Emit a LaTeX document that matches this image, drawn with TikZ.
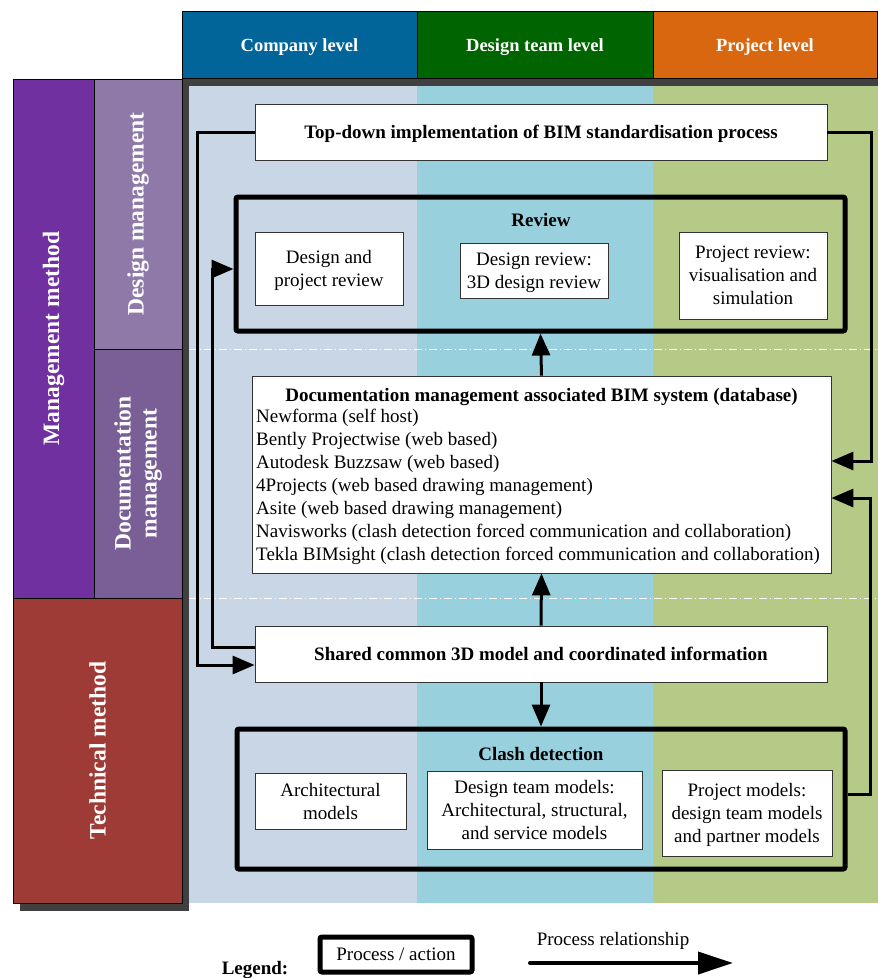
\documentclass[tikz,border=0pt]{standalone}
\usepackage{fontspec}
\setmainfont{Liberation Serif}
\usetikzlibrary{arrows.meta}

% colours
\definecolor{hdrblue}{HTML}{02659A}
\definecolor{hdrgreen}{HTML}{006400}
\definecolor{hdrorange}{HTML}{D9670F}
\definecolor{bandone}{HTML}{C8D6E5}
\definecolor{bandtwo}{HTML}{99D0DD}
\definecolor{bandthree}{HTML}{B6CA87}
\definecolor{mgmtpurple}{HTML}{7030A0}
\definecolor{desmgmt}{HTML}{8F79A8}
\definecolor{docmgmt}{HTML}{7A5F96}
\definecolor{techred}{HTML}{9E3B37}
\definecolor{shadowgray}{HTML}{404040}
\definecolor{boxline}{HTML}{333333}

\tikzset{
  base/.style={font=\fontsize{19}{23}\selectfont, inner sep=2pt},
  hdr/.style={base, draw=black, line width=1pt, text=white, text depth=0pt,
    font=\fontsize{18.5}{22}\selectfont\bfseries},
  sidelabel/.style={draw=black, line width=1pt, text=white, rotate=90, align=center,
    font=\fontsize{23.5}{26}\selectfont\bfseries, inner sep=0pt},
  plainbox/.style={base, draw=boxline, line width=0.8pt, fill=white, align=center, text depth=0pt},
  procbox/.style={draw=black, line width=5pt, rounded corners=2pt},
  boldtext/.style={base, font=\fontsize{19}{23}\selectfont\bfseries},
  flow/.style={line width=3pt, -{Triangle[length=22pt,width=18pt]}},
  sepline/.style={white, line width=0.6pt, dash pattern=on 8pt off 3pt on 1pt off 3pt},
}

\begin{document}
\begin{tikzpicture}[x=1pt,y=-1pt]
\useasboundingbox (0,0) rectangle (878,978);

% shadows and column bands
\fill[shadowgray] (183,79) rectangle (878,903);
\fill[shadowgray] (20,86) rectangle (189,911);
\fill[bandone] (189,86) rectangle (417,903);
\fill[bandtwo] (417,86) rectangle (653,903);
\fill[bandthree] (653,86) rectangle (878,903);
\draw[sepline] (189,349) -- (878,349);
\draw[sepline] (189,598) -- (878,598);

% column headers
\node[hdr, fill=hdrblue, minimum width=235, minimum height=67] (hcompany) at (299.5,45) {Company level};
\node[hdr, fill=hdrgreen, minimum width=236, minimum height=67] (hteam) at (535,45) {Design team level};
\node[hdr, fill=hdrorange, minimum width=224, minimum height=67] (hproject) at (765,45) {Project level};

% row headers
\node[sidelabel, fill=mgmtpurple, minimum width=519, minimum height=81] (lmgmt) at (53.5,338.5) {Management method};
\node[sidelabel, fill=desmgmt, minimum width=270, minimum height=88] (ldesign) at (138,214) {Design management};
\node[sidelabel, fill=docmgmt, minimum width=249, minimum height=88] (ldoc) at (138,473.5) {Documentation\\management};
\node[sidelabel, fill=techred, minimum width=305, minimum height=169] (ltech) at (97.5,750.5) {Technical method};

% process boxes
\node[plainbox, minimum width=572, minimum height=56, font=\fontsize{19}{23}\selectfont\bfseries] (topdown) at (541,132)
  {Top-down implementation of BIM standardisation process};

\node[procbox, minimum width=609, minimum height=134] (review) at (540.5,264) {};
\node[boldtext] (reviewtitle) at (541,219.5) {Review};
\node[plainbox, minimum width=148, minimum height=73] (revone) at (329,268.5) {Design and\\project review};
\node[plainbox, minimum width=148, minimum height=55] (revtwo) at (534,270.5) {Design review:\\3D design review};
\node[plainbox, minimum width=148, minimum height=87] (revthree) at (753,275.5) {Project review:\\visualisation and\\simulation};

\node[plainbox, minimum width=579, minimum height=197] (doc) at (541.5,474.5) {};
\node[boldtext] (doctitle) at (541.5,396.5) {Documentation management associated BIM system (database)};
\node[base, anchor=north west, align=left] (doclist) at (254,407) {%
  Newforma (self host)\\
  Bently Projectwise (web based)\\
  Autodesk Buzzsaw (web based)\\
  4Projects (web based drawing management)\\
  Asite (web based drawing management)\\
  Navisworks (clash detection forced communication and collaboration)\\
  Tekla BIMsight (clash detection forced communication and collaboration)};

\node[plainbox, minimum width=572, minimum height=56, font=\fontsize{19}{23}\selectfont\bfseries] (shared) at (541,654)
  {Shared common 3D model and coordinated information};

\node[procbox, minimum width=608, minimum height=140] (clash) at (541,799) {};
\node[boldtext] (clashtitle) at (541,753.5) {Clash detection};
\node[plainbox, minimum width=151, minimum height=56] (clone) at (330.5,801) {Architectural\\models};
\node[plainbox, minimum width=215, minimum height=78] (cltwo) at (534.5,810) {Design team models:\\Architectural, structural,\\and service models};
\node[plainbox, minimum width=170, minimum height=86] (clthree) at (747,813) {Project models:\\design team models\\and partner models};

% routing points
\coordinate (ra) at (197,132);
\coordinate (rb) at (197,665);
\coordinate (rc) at (212,647);
\coordinate (rd) at (212,269);
\coordinate (re) at (871,132);
\coordinate (rf) at (871,461);
\coordinate (rg) at (870,794);
\coordinate (rh) at (870,498);

% connectors
\draw[flow] (topdown.west) -- (ra) -- (rb) -- (shared.west |- rb);
\draw[flow] (shared.west |- rc) -- (rc) -- (rd) -- (review.west |- rd);
\draw[flow] (topdown.east) -- (re) -- (rf) -- (doc.east |- rf);
\draw[flow] (clash.east |- rg) -- (rg) -- (rh) -- (doc.east |- rh);
\draw[flow] (shared.north) -- (doc.south);
\draw[flow] (doc.north) -- (review.south);
\draw[flow] (shared.south) -- (clash.north);

% legend
\node[boldtext, anchor=base] (legendlabel) at (255,974) {Legend:};
\node[procbox, base, minimum width=152, minimum height=35] (legendbox) at (396,954.5) {Process / action};
\node[base] (legendtext) at (613,941) {Process relationship};
\coordinate (lgstart) at (530,963);
\coordinate (lgend) at (733,963);
\draw[line width=4pt, line cap=round, -{Triangle[length=35pt,width=22pt]}] (lgstart) -- (lgend);
\end{tikzpicture}
\end{document}
